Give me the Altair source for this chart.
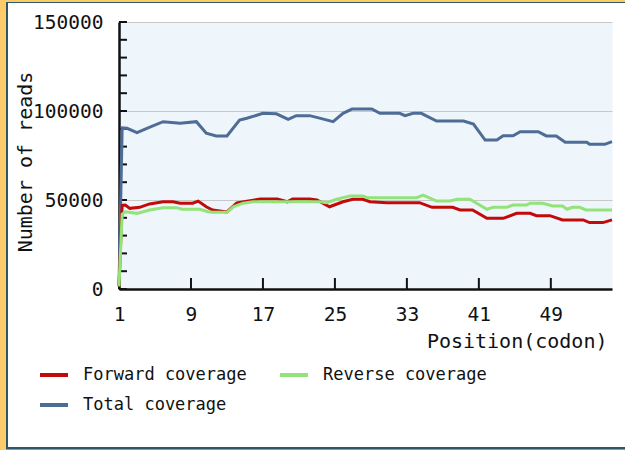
import altair as alt
import pandas as pd

# Read coverage along the gene, by codon position
total_pos = [1.0, 1.35, 1.9, 3.0, 4.1, 5.9, 7.8, 9.6, 10.7, 11.8, 13.0, 14.4, 15.2, 17.0, 18.5,
             19.8, 20.7, 22.2, 23.3, 24.8, 25.9, 26.9, 29.1, 30.0, 32.2, 32.8, 33.7, 34.6, 36.3,
             39.3, 40.4, 41.7, 43.0, 43.7, 44.8, 45.6, 47.6, 48.5, 49.6, 50.6, 53.0, 53.3, 55.0, 55.8]
total_val = [2000, 90500, 90300, 87800, 90300, 94000, 93100, 94000, 87500, 86000, 86000, 94900,
             95900, 98700, 98400, 95300, 97400, 97400, 96000, 94000, 98700, 101100, 101100, 98700,
             98700, 97400, 98700, 98700, 94400, 94400, 92700, 83700, 83700, 86100, 86100, 88400,
             88400, 86000, 86000, 82400, 82400, 81300, 81300, 82800]

fwd_pos = [1.0, 1.35, 1.7, 2.2, 3.3, 4.4, 5.9, 7.0, 7.8, 9.2, 9.8, 10.7, 11.4, 13.0, 14.1, 16.7,
           18.6, 19.7, 20.3, 22.2, 23.0, 24.4, 25.9, 27.0, 28.1, 28.9, 30.8, 34.4, 35.8, 38.1,
           38.9, 40.3, 41.9, 43.7, 45.2, 46.7, 47.4, 48.9, 50.3, 52.6, 53.3, 54.8, 55.8]
fwd_val = [1500, 47000, 47200, 45300, 45900, 47800, 49000, 49000, 48200, 48200, 49400, 46200,
           44400, 43300, 48300, 50600, 50600, 49000, 50600, 50600, 50000, 46200, 49000, 50400,
           50400, 49000, 48500, 48500, 45900, 45900, 44400, 44400, 39700, 39700, 42500, 42500,
           41200, 41200, 38800, 38800, 37300, 37300, 38800]

rev_pos = [1.0, 1.35, 1.7, 3.0, 4.4, 5.9, 7.4, 8.0, 10.0, 10.9, 11.4, 13.0, 13.7, 14.8, 15.9,
           23.3, 24.1, 25.2, 26.7, 28.1, 28.6, 34.1, 34.8, 36.3, 37.8, 38.6, 40.0, 41.9, 42.6,
           44.1, 44.8, 46.3, 46.7, 48.1, 49.2, 50.3, 50.8, 51.4, 52.2, 52.9, 55.8]
rev_val = [1500, 42000, 43400, 42500, 44400, 45700, 45700, 44800, 44800, 43400, 43100, 43100,
           46200, 48200, 49000, 49000, 48500, 50400, 52300, 52300, 51300, 51300, 52800, 49400,
           49400, 50400, 50400, 44800, 45900, 45900, 47200, 47200, 48200, 48200, 46600, 46600,
           44800, 45900, 45900, 44400, 44400]

series_names = ["Forward coverage", "Reverse coverage", "Total coverage"]
series_colors = ["#C20A0A", "#92E47A", "#4E6D96"]

x_ticks = [1, 9, 17, 25, 33, 41, 49]
y_labels = [0, 50000, 100000, 150000]
y_minor = list(range(0, 150001, 10000))

W, H = 493, 267
PAD_L, PAD_T = 119, 22
FONT = "DejaVu Sans Mono"
INK = "#111111"

rows = []
for name, pos, val in [("Total coverage", total_pos, total_val),
                       ("Forward coverage", fwd_pos, fwd_val),
                       ("Reverse coverage", rev_pos, rev_val)]:
    for p, v in zip(pos, val):
        rows.append({"series": name, "position": p, "reads": v})
df = pd.DataFrame(rows)

xscale = alt.Scale(domain=[1, 55.8], nice=False, zero=False)
yscale = alt.Scale(domain=[0, 150000], nice=False)

lines = alt.Chart(df).mark_line(strokeWidth=3).encode(
    x=alt.X("position:Q", scale=xscale,
            axis=alt.Axis(values=x_ticks, ticks=False, grid=False, labelFlush=False,
                          labelFont=FONT, labelFontSize=19.5, labelColor=INK, labelPadding=16,
                          domainColor=INK, domainWidth=2.5,
                          title="Position(codon)", titleFont=FONT, titleFontSize=20,
                          titleFontWeight="normal", titleColor=INK,
                          titleX=488, titleY=58, titleAlign="right",
                          titleBaseline="alphabetic")),
    y=alt.Y("reads:Q", scale=yscale,
            axis=alt.Axis(values=y_labels, format="d", ticks=False, grid=True,
                          gridColor="#C8C8C8", gridWidth=1, labelFont=FONT,
                          labelFontSize=19.5, labelColor=INK, labelPadding=16,
                          domainColor=INK, domainWidth=2.5,
                          title="Number of reads", titleFont=FONT, titleFontSize=20,
                          titleFontWeight="normal", titleColor=INK, titleAngle=270,
                          titleX=-88, titleY=139.5, titleAlign="center",
                          titleBaseline="alphabetic")),
    color=alt.Color("series:N", title=None,
                    scale=alt.Scale(domain=series_names, range=series_colors),
                    legend=alt.Legend(orient="none", legendX=-81, legendY=337, columns=2,
                                      direction="horizontal",
                                      symbolType="stroke", symbolSize=784,
                                      symbolStrokeWidth=4, labelFont=FONT,
                                      labelFontSize=17, labelColor=INK, labelOffset=13,
                                      labelLimit=400, columnPadding=25, rowPadding=6,
                                      padding=0)),
)

# inward-pointing tick marks on both axes
yticks = alt.Chart(pd.DataFrame({"reads": y_minor})).mark_rule(
    color=INK, strokeWidth=2).encode(
    y=alt.Y("reads:Q", scale=yscale), x=alt.value(0), x2=alt.value(8))
xticks = alt.Chart(pd.DataFrame({"position": x_ticks})).mark_rule(
    color=INK, strokeWidth=2).encode(
    x=alt.X("position:Q", scale=xscale), y=alt.value(H - 11), y2=alt.value(H))

# page frame around the figure
blank = alt.Data(values=[{}])


def band(x0, x1, y0, y1, color):
    return alt.Chart(blank).mark_rect(color=color).encode(
        x=alt.value(x0), x2=alt.value(x1), y=alt.value(y0), y2=alt.value(y1))


frame = [
    band(-PAD_L, -PAD_L + 6, -PAD_T, 450 - PAD_T, "#FECB6A"),
    band(-PAD_L + 6, -PAD_L + 8, -PAD_T + 3, 450 - PAD_T, "#2F5666"),
    band(-PAD_L, 625 - PAD_L, -PAD_T, -PAD_T + 2, "#FECB6A"),
    band(-PAD_L + 6, 625 - PAD_L, -PAD_T + 2, -PAD_T + 3, "#2F5666"),
    band(-PAD_L + 6, 625 - PAD_L, 447 - PAD_T, 449 - PAD_T, "#2F5666"),
    band(-PAD_L + 6, 625 - PAD_L, 449 - PAD_T, 450 - PAD_T, "#7FA0AA"),
]

chart = alt.layer(*frame, yticks, xticks, lines).properties(
    width=W, height=H,
    padding={"left": PAD_L, "top": PAD_T, "right": 625 - PAD_L - W, "bottom": 450 - PAD_T - H},
    autosize=alt.AutoSizeParams(type="none"),
    background="white",
).configure_view(fill="#EEF5FB", stroke="transparent")

chart.save("out.html", embed_options={"renderer": "svg", "actions": False})
